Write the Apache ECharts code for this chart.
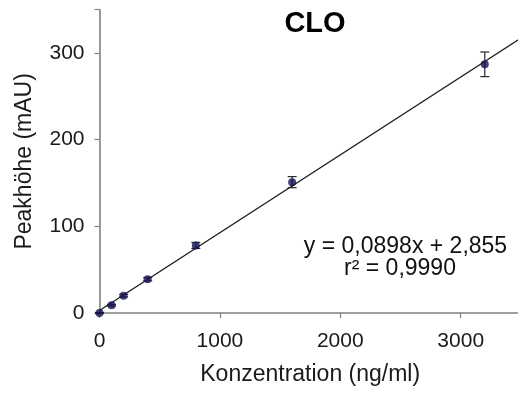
<!DOCTYPE html>
<html>
<head>
<meta charset="utf-8">
<script src="https://cdn.jsdelivr.net/npm/echarts@6/dist/echarts.min.js"></script>
<style>
  html, body { margin: 0; padding: 0; background: #fff; }
  #chart { width: 518px; height: 394px; }
</style>
</head>
<body>
<div id="chart"></div>
<script>
// Calibration data for CLO
const concentrations = [0, 100, 200, 400, 800, 1600, 3200];   // ng/ml
const peakHeights    = [0, 8.9, 20, 39, 78, 151, 287];       // mAU
const stdDevs        = [0.5, 1, 1.5, 1.8, 3.5, 6.4, 14.2];   // mAU
const xTicks = [0, 1000, 2000, 3000];
const yTicks = [0, 100, 200, 300];

// Linear regression result
const slope = 0.0898;
const intercept = 2.855;
const rSquared = 0.9990;

const xMax = 3500;
const yMax = 350;

const fmt = (v, d) => v.toFixed(d).replace('.', ',');
const eqLine1 = 'y = ' + fmt(slope, 4) + 'x + ' + fmt(intercept, 3);
const eqLine2 = 'r² = ' + fmt(rSquared, 4);

const points = concentrations.map((c, i) => [c, peakHeights[i]]);
const errorData = concentrations.map((c, i) => [c, peakHeights[i], stdDevs[i]]);
const fitLine = [[0, intercept], [xMax, slope * xMax + intercept]];

const FONT = '"Liberation Sans", Arial, sans-serif';
const axisGray = '#808080';

const chart = echarts.init(document.getElementById('chart'), null, { renderer: 'canvas' });

chart.setOption({
  animation: false,
  backgroundColor: '#ffffff',
  grid: {
    left: 99.5, top: 9.7, width: 421.4, height: 303.3,
    containLabel: false,
    outerBoundsMode: 'none'
  },
  xAxis: {
    type: 'value',
    min: 0, max: xMax, interval: 1000,
    name: 'Konzentration (ng/ml)',
    nameLocation: 'middle',
    nameGap: 50,
    nameTextStyle: { fontFamily: FONT, fontSize: 23, color: '#1a1a1a' },
    axisLine: { show: true, onZero: false, lineStyle: { color: axisGray, width: 1.6 } },
    axisTick: { show: true, length: 5, inside: false, lineStyle: { color: axisGray, width: 1.2 } },
    axisLabel: {
      margin: 18, fontFamily: FONT, fontSize: 21, color: '#1a1a1a',
      formatter: v => (xTicks.includes(v) ? String(v) : '')
    },
    splitLine: { show: false }
  },
  yAxis: {
    type: 'value',
    min: 0, max: yMax, interval: 100,
    name: 'Peakhöhe (mAU)',
    nameLocation: 'middle',
    nameGap: 63,
    nameTextStyle: { fontFamily: FONT, fontSize: 23, color: '#1a1a1a' },
    axisLine: { show: true, onZero: false, lineStyle: { color: axisGray, width: 1.6 } },
    axisTick: { show: true, length: 5, inside: false, lineStyle: { color: axisGray, width: 1.2 } },
    axisLabel: {
      margin: 15, fontFamily: FONT, fontSize: 21, color: '#1a1a1a',
      formatter: v => (yTicks.includes(v) ? String(v) : '')
    },
    splitLine: { show: false }
  },
  graphic: [
    {
      type: 'text', x: 315, y: 24,
      style: {
        text: 'CLO', fill: '#000', font: 'bold 29px ' + FONT,
        textAlign: 'center', textVerticalAlign: 'middle'
      }
    },
    {
      type: 'text', x: 405.5, y: 246.5,
      style: {
        text: eqLine1, fill: '#111', font: '23px ' + FONT,
        textAlign: 'center', textVerticalAlign: 'middle'
      }
    },
    {
      type: 'text', x: 400, y: 269,
      style: {
        text: eqLine2, fill: '#111', font: '23px ' + FONT,
        textAlign: 'center', textVerticalAlign: 'middle'
      }
    }
  ],
  series: [
    {
      name: 'Regression',
      type: 'line',
      data: fitLine,
      showSymbol: false,
      symbol: 'none',
      lineStyle: { color: '#1a1a1a', width: 1.3 },
      z: 2
    },
    {
      name: 'Fehlerbalken',
      type: 'custom',
      data: errorData,
      renderItem: function (params, api) {
        const x = api.value(0), y = api.value(1), e = api.value(2);
        const top = api.coord([x, y + e]);
        const bot = api.coord([x, y - e]);
        const hw = 4.5;
        const style = { stroke: '#2a2a2a', lineWidth: 1.2 };
        return {
          type: 'group',
          children: [
            { type: 'line', shape: { x1: top[0], y1: top[1], x2: bot[0], y2: bot[1] }, style },
            { type: 'line', shape: { x1: top[0] - hw, y1: top[1], x2: top[0] + hw, y2: top[1] }, style },
            { type: 'line', shape: { x1: bot[0] - hw, y1: bot[1], x2: bot[0] + hw, y2: bot[1] }, style }
          ]
        };
      },
      z: 3
    },
    {
      name: 'CLO',
      type: 'scatter',
      data: points,
      symbol: 'circle',
      symbolSize: 8,
      itemStyle: { color: '#121250' },
      z: 4
    }
  ]
});
</script>
</body>
</html>
